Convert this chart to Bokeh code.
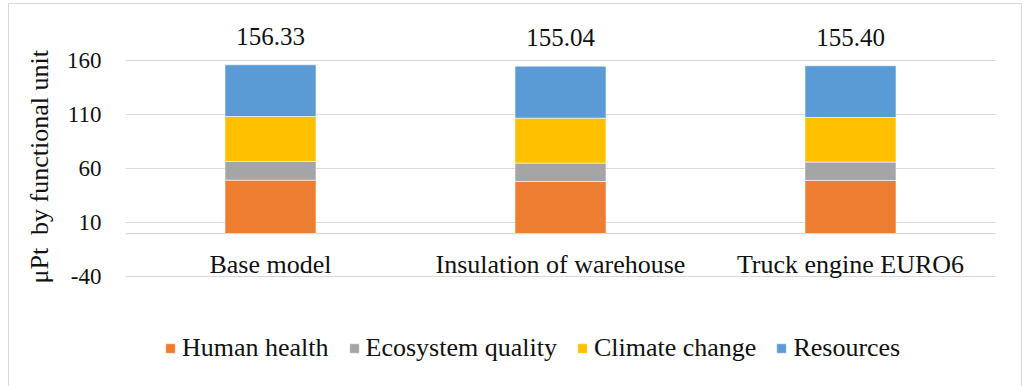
from bokeh.plotting import figure
from bokeh.models import (FactorRange, Range1d, FixedTicker, LabelSet, ColumnDataSource,
                          Legend, LegendItem, Span, Title, InlineStyleSheet)
from bokeh.embed import file_html
from bokeh.resources import INLINE

# Scenarios and impact categories (µPt per functional unit)
scenarios = ["Base model", "Insulation of warehouse", "Truck engine EURO6"]
human_health = [49.5, 48.2, 49.2]
ecosystem_quality = [17.3, 17.1, 17.0]
climate_change = [41.6, 41.6, 41.3]
resources = [47.93, 48.14, 47.90]
y_ticks = [-40, 10, 60, 110, 160]

series = ["Human health", "Ecosystem quality", "Climate change", "Resources"]
colors = ["#ED7D31", "#A5A5A5", "#FFC000", "#5B9BD5"]

totals = [round(a + b + c + d, 2) for a, b, c, d in
          zip(human_health, ecosystem_quality, climate_change, resources)]

source = ColumnDataSource(dict(
    scenario=scenarios,
    **{"Human health": human_health,
       "Ecosystem quality": ecosystem_quality,
       "Climate change": climate_change,
       "Resources": resources},
    total=totals,
    total_label=[f"{t:.2f}" for t in totals],
))

FONT = "Liberation Serif"
TXT = "#111111"
GRID = "#D9D9D9"

# The frame spans the full height so the value labels, category labels
# and legend can all sit inside it; gridlines are only drawn at the ticks.
p = figure(x_range=FactorRange(*scenarios), y_range=Range1d(-141.57, 215.83),
           x_axis_location=None,
           frame_width=870, frame_height=386,
           min_border_left=125, min_border_right=28, min_border_top=0, min_border_bottom=0,
           output_backend="svg", toolbar_location=None)

renderers = p.vbar_stack(series, x="scenario", width=0.314, source=source,
                         color=colors, line_color="white", line_width=0.8, line_alpha=0.7)

# Category axis line at zero
p.add_layout(Span(location=0, dimension="width", line_color=GRID, line_width=1.2))

# Total value above each stack
p.add_layout(LabelSet(x="scenario", y="total", text="total_label", source=source,
                      y_offset=20, text_align="center", text_baseline="alphabetic",
                      text_font=FONT, text_font_size="25px", text_color=TXT))

# Category names under the zero line
p.add_layout(LabelSet(x="scenario", y=0, text="scenario", source=source,
                      y_offset=-39, text_align="center", text_baseline="alphabetic",
                      text_font=FONT, text_font_size="26px", text_color=TXT))

# Value axis
p.yaxis.ticker = FixedTicker(ticks=y_ticks)
p.yaxis.major_label_overrides = {t: str(t) for t in y_ticks}
p.yaxis.axis_line_color = None
p.yaxis.major_tick_line_color = None
p.yaxis.minor_tick_line_color = None
p.yaxis.major_label_standoff = 18
p.yaxis.major_label_text_font = FONT
p.yaxis.major_label_text_font_size = "23px"
p.yaxis.major_label_text_color = TXT

p.add_layout(Title(text="\u03bcPt \u00a0by functional unit", align="left", offset=103,
                   standoff=20, text_font=FONT, text_font_size="26px",
                   text_font_style="normal", text_color=TXT), "left")

for g in p.grid:
    if g.dimension == 0:
        g.visible = False
p.ygrid.grid_line_color = GRID
p.ygrid.grid_line_width = 1.2
p.outline_line_color = None

legend = Legend(items=[LegendItem(label=s, renderers=[r]) for s, r in zip(series, renderers)],
                orientation="horizontal", location=(39, 23),
                label_text_font=FONT, label_text_font_size="26px", label_text_color=TXT,
                glyph_width=12, glyph_height=12, label_standoff=6, spacing=19,
                border_line_color=None, background_fill_alpha=0, padding=0, margin=0)
p.add_layout(legend, "center")

# Light chart-area border
p.stylesheets = [InlineStyleSheet(css="""
:host { position: relative; }
:host::after {
  content: ""; position: absolute; left: 8px; top: 3px; right: 1px; bottom: -20px;
  border: 1.5px solid #D9D9D9; pointer-events: none;
}
""")]

open("out.html", "w").write(file_html(p, INLINE))
